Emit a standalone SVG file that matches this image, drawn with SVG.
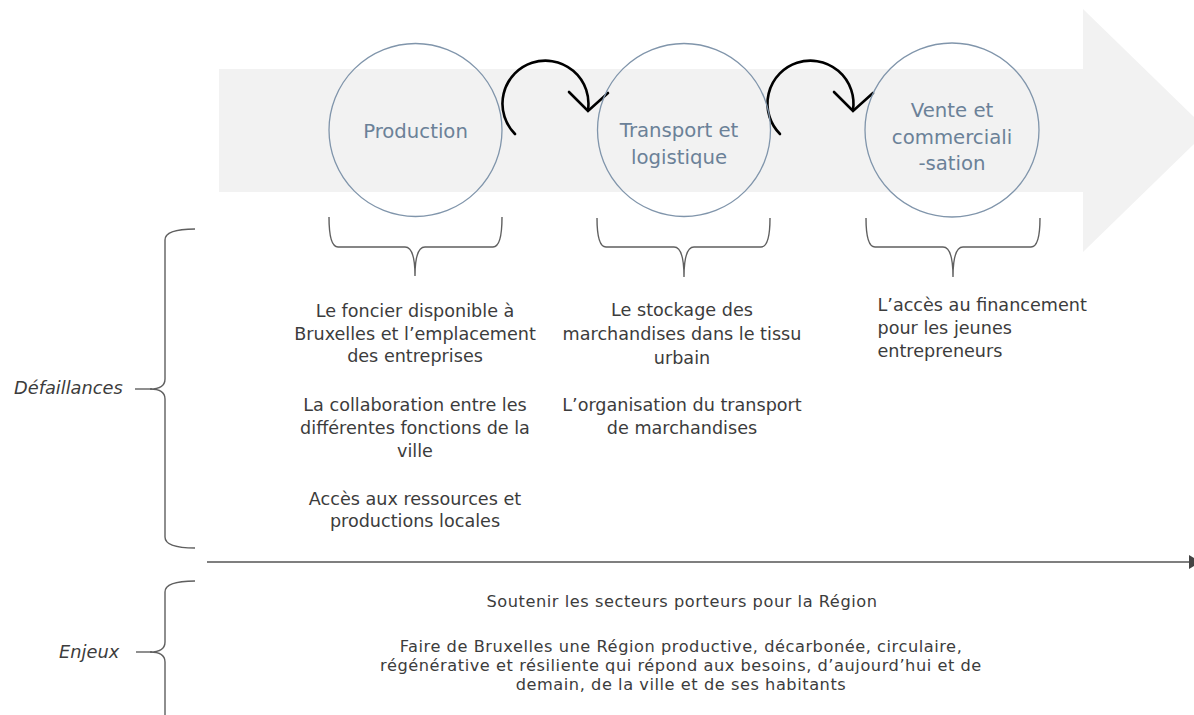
<svg xmlns="http://www.w3.org/2000/svg" width="1194" height="715" viewBox="0 0 1194 715">
  <style>
    .bg { fill: #f2f2f2; }
    .stage { fill: none; stroke: #8095ab; stroke-width: 1.3; }
    .stage-label { font-family: "DejaVu Sans", "Open Sans", sans-serif; font-size: 19.7px; fill: #6b8198; text-anchor: middle; }
    .body { font-family: "DejaVu Sans", "Open Sans", sans-serif; font-size: 17.6px; fill: #3c3c3c; }
    .small { font-size: 16.2px; letter-spacing: 0.55px; }
    .mid { text-anchor: middle; }
    .side { font-family: "DejaVu Sans", "Open Sans", sans-serif; font-size: 17.8px; font-style: italic; fill: #3c3c3c; }
    .brace { fill: none; stroke: #5f5f5f; stroke-width: 1.4; }
    .cycle { fill: none; stroke: #000; stroke-width: 2.6; stroke-linecap: round; stroke-linejoin: miter; }
    .axis { stroke: #555; stroke-width: 1.4; }
  </style>

  <g id="background-arrow">
    <rect class="bg" x="219" y="69" width="864" height="123"/>
    <polygon class="bg" points="1083,9 1208,130.5 1083,252"/>
  </g>

  <g id="connectors">
    <path class="cycle" d="M515,134 A43,43 0 1 1 588,110"/>
    <polyline class="cycle" points="569,92 588,111 608,93"/>
    <path class="cycle" d="M780,134 A43,43 0 1 1 853,110"/>
    <polyline class="cycle" points="834,92 853,111 873,93"/>
    <line class="axis" x1="207" y1="562" x2="1190" y2="562"/>
    <polygon fill="#444" points="1189,555 1201,562 1189,569"/>
  </g>

  <g id="node-production">
    <circle class="stage" cx="415.5" cy="130" r="86.5"/>
    <text class="stage-label" x="415.5" y="138">Production</text>
  </g>
  <g id="node-transport">
    <circle class="stage" cx="684" cy="130" r="86.5"/>
    <text class="stage-label" x="679" y="137">Transport et</text>
    <text class="stage-label" x="679" y="163.5">logistique</text>
  </g>
  <g id="node-vente">
    <circle class="stage" cx="952" cy="130" r="87"/>
    <text class="stage-label" x="952" y="117">Vente et</text>
    <text class="stage-label" x="952" y="143.5">commerciali</text>
    <text class="stage-label" x="952" y="170">-sation</text>
  </g>

  <g id="braces">
    <path class="brace" d="M329,217 Q329,247 338,247 L405,247 Q415,247 415,276 Q415,247 425,247 L493,247 Q502,247 502,217"/>
    <path class="brace" d="M597,218 Q597,247 606,247 L674,247 Q684,247 684,277 Q684,247 694,247 L761,247 Q770,247 770,218"/>
    <path class="brace" d="M866,218 Q866,247 875,247 L943,247 Q953,247 953,277 Q953,247 963,247 L1031,247 Q1040,247 1040,218"/>
    <path class="brace" d="M195,229 Q165,229 165,240 L165,379 Q165,389 150,389 Q165,389 165,399 L165,537 Q165,548 195,548"/>
    <line class="brace" x1="135" y1="389" x2="152" y2="389"/>
    <path class="brace" d="M195,581 Q165,581 165,592 L165,642 Q165,652 150,652 Q165,652 165,662 L165,723"/>
    <line class="brace" x1="136" y1="652" x2="152" y2="652"/>
  </g>

  <g id="label-defaillances">
    <text class="side" x="14" y="394">Défaillances</text>
  </g>
  <g id="label-enjeux">
    <text class="side" x="59" y="658">Enjeux</text>
  </g>

  <g id="text-production">
    <text class="body mid" x="415" y="317">Le foncier disponible à</text>
    <text class="body mid" x="415" y="340">Bruxelles et l’emplacement</text>
    <text class="body mid" x="415" y="362">des entreprises</text>
    <text class="body mid" x="415" y="411">La collaboration entre les</text>
    <text class="body mid" x="415" y="434">différentes fonctions de la</text>
    <text class="body mid" x="415" y="457">ville</text>
    <text class="body mid" x="415" y="505">Accès aux ressources et</text>
    <text class="body mid" x="415" y="527">productions locales</text>
  </g>
  <g id="text-transport">
    <text class="body mid" x="682" y="316">Le stockage des</text>
    <text class="body mid" x="682" y="340">marchandises dans le tissu</text>
    <text class="body mid" x="682" y="364">urbain</text>
    <text class="body mid" x="682" y="411">L’organisation du transport</text>
    <text class="body mid" x="682" y="434">de marchandises</text>
  </g>
  <g id="text-vente">
    <text class="body" x="877.5" y="311">L’accès au financement</text>
    <text class="body" x="877.5" y="334">pour les jeunes</text>
    <text class="body" x="877.5" y="357">entrepreneurs</text>
  </g>
  <g id="text-enjeux">
    <text class="body small mid" x="682" y="607">Soutenir les secteurs porteurs pour la Région</text>
    <text class="body small mid" x="681" y="652">Faire de Bruxelles une Région productive, décarbonée, circulaire,</text>
    <text class="body small mid" x="681" y="671">régénérative et résiliente qui répond aux besoins, d’aujourd’hui et de</text>
    <text class="body small mid" x="681" y="690">demain, de la ville et de ses habitants</text>
  </g>
</svg>
